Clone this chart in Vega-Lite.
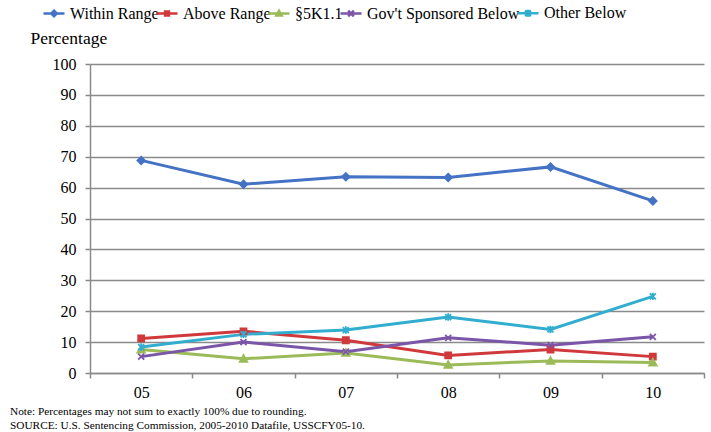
{
  "$schema": "https://vega.github.io/schema/vega-lite/v6.json",
  "autosize": "none",
  "width": 614,
  "height": 309,
  "padding": {"left": 90, "top": 64, "right": 7, "bottom": 59},
  "background": "white",
  "config": {
    "font": "Liberation Serif, Times New Roman, serif",
    "view": {"stroke": null},
    "axis": {"labelFont": "Liberation Serif, Times New Roman, serif", "labelFontSize": 16, "labelColor": "#000", "titleFont": "Liberation Serif, Times New Roman, serif", "domainColor": "#8a8a8a", "tickColor": "#8a8a8a", "gridColor": "#8a8a8a", "domainWidth": 1.5, "tickWidth": 1.5, "gridWidth": 1.5},
    "legend": {"labelFont": "Liberation Serif, Times New Roman, serif"}
  },
  "title": {
    "text": ["Note: Percentages may not sum to exactly 100% due to rounding.", "SOURCE:  U.S. Sentencing Commission, 2005-2010 Datafile, USSCFY05-10."],
    "orient": "bottom",
    "anchor": "start",
    "frame": "group",
    "dx": -80,
    "offset": 6,
    "font": "Liberation Serif, Times New Roman, serif",
    "fontSize": 11.3,
    "fontWeight": "normal",
    "lineHeight": 14,
    "color": "#000"
  },
  "data": {
    "values": [
      {"year": "05", "series": "Within Range", "pct": 68.8},
      {"year": "06", "series": "Within Range", "pct": 61.1},
      {"year": "07", "series": "Within Range", "pct": 63.5},
      {"year": "08", "series": "Within Range", "pct": 63.3},
      {"year": "09", "series": "Within Range", "pct": 66.7},
      {"year": "10", "series": "Within Range", "pct": 55.7},
      {"year": "05", "series": "Above Range", "pct": 11.2},
      {"year": "06", "series": "Above Range", "pct": 13.5},
      {"year": "07", "series": "Above Range", "pct": 10.6},
      {"year": "08", "series": "Above Range", "pct": 5.7},
      {"year": "09", "series": "Above Range", "pct": 7.6},
      {"year": "10", "series": "Above Range", "pct": 5.3},
      {"year": "05", "series": "§5K1.1", "pct": 7.6},
      {"year": "06", "series": "§5K1.1", "pct": 4.6},
      {"year": "07", "series": "§5K1.1", "pct": 6.5},
      {"year": "08", "series": "§5K1.1", "pct": 2.6},
      {"year": "09", "series": "§5K1.1", "pct": 3.9},
      {"year": "10", "series": "§5K1.1", "pct": 3.4},
      {"year": "05", "series": "Gov't Sponsored Below", "pct": 5.3},
      {"year": "06", "series": "Gov't Sponsored Below", "pct": 10.0},
      {"year": "07", "series": "Gov't Sponsored Below", "pct": 6.9},
      {"year": "08", "series": "Gov't Sponsored Below", "pct": 11.4},
      {"year": "09", "series": "Gov't Sponsored Below", "pct": 9.0},
      {"year": "10", "series": "Gov't Sponsored Below", "pct": 11.7},
      {"year": "05", "series": "Other Below", "pct": 8.4},
      {"year": "06", "series": "Other Below", "pct": 12.5},
      {"year": "07", "series": "Other Below", "pct": 13.9},
      {"year": "08", "series": "Other Below", "pct": 18.1},
      {"year": "09", "series": "Other Below", "pct": 14.1},
      {"year": "10", "series": "Other Below", "pct": 24.8}
    ]
  },
  "encoding": {
    "x": {
      "field": "year", "type": "ordinal",
      "scale": {"paddingInner": 0, "paddingOuter": 0},
      "axis": {"title": null, "labelAngle": 0, "tickBand": "extent", "tickSize": 5, "labelPadding": 6, "grid": false}
    },
    "y": {
      "field": "pct", "type": "quantitative",
      "scale": {"domain": [0, 100], "nice": false},
      "axis": {"values": [0,10,20,30,40,50,60,70,80,90,100], "tickSize": 5, "labelPadding": 9, "grid": true,
        "title": "Percentage", "titleAngle": 0, "titleAlign": "left", "titleBaseline": "middle", "titleX": -60, "titleY": -26,
        "titleFontSize": 17.5, "titleFontWeight": "normal", "titleColor": "#000"}
    },
    "color": {
      "field": "series", "type": "nominal",
      "scale": {"domain": ["Within Range", "Above Range", "§5K1.1", "Gov't Sponsored Below", "Other Below"],
                "range": ["#4472C4", "#D0393C", "#9BBB59", "#7B55A8", "#31ADCF"]},
      "legend": {
        "title": null,
        "orient": "none",
        "direction": "horizontal",
        "legendX": -44,
        "legendY": -59,
        "labelFontSize": 16,
        "labelColor": "#000",
        "symbolSize": 49,
        "labelOffset": 8,
        "columnPadding": -12,
        "symbolOpacity": 1,
        "symbolStrokeWidth": 2.5,
        "symbolType": {"expr": "datum.value === 'Within Range' ? 'M-3,0H3M0,-0.8L0.8,0L0,0.8L-0.8,0Z' : datum.value === 'Above Range' ? 'M-3,0H3M-0.55,-0.55H0.55V0.55H-0.55Z' : datum.value === '§5K1.1' ? 'M-3,0H3M0,-0.75L0.75,0.55H-0.75Z' : datum.value === 'Other Below' ? 'M-3,0H3M-0.8,-0.8L0.8,0.8M-0.8,0.8L0.8,-0.8M0,-1V1' : 'M-3,0H3M-0.8,-0.8L0.8,0.8M-0.8,0.8L0.8,-0.8'"}
      }
    }
  },
  "resolve": {"scale": {"shape": "independent"}, "legend": {"shape": "independent"}},
  "layer": [
    {
      "mark": {"type": "line", "strokeWidth": 3}
    },
    {
      "mark": {"type": "point", "filled": true, "size": 56, "strokeWidth": 1.8, "opacity": 1},
      "encoding": {
        "shape": {
          "field": "series", "type": "nominal", "legend": null,
          "scale": {"domain": ["Within Range", "Above Range", "§5K1.1", "Gov't Sponsored Below", "Other Below"],
                    "range": ["M0,-1L1,0L0,1L-1,0Z", "M-0.8,-0.8H0.8V0.8H-0.8Z", "M0,-1L1,0.8H-1Z", "M-0.8,-0.8L0.8,0.8M-0.8,0.8L0.8,-0.8", "M-0.8,-0.8L0.8,0.8M-0.8,0.8L0.8,-0.8M0,-1V1"]}
        },
        "stroke": {
          "field": "series", "type": "nominal", "legend": null,
          "scale": {"domain": ["Within Range", "Above Range", "§5K1.1", "Gov't Sponsored Below", "Other Below"],
                    "range": ["#4472C4", "#D0393C", "#9BBB59", "#7B55A8", "#31ADCF"]}
        }
      }
    }
  ]
}
